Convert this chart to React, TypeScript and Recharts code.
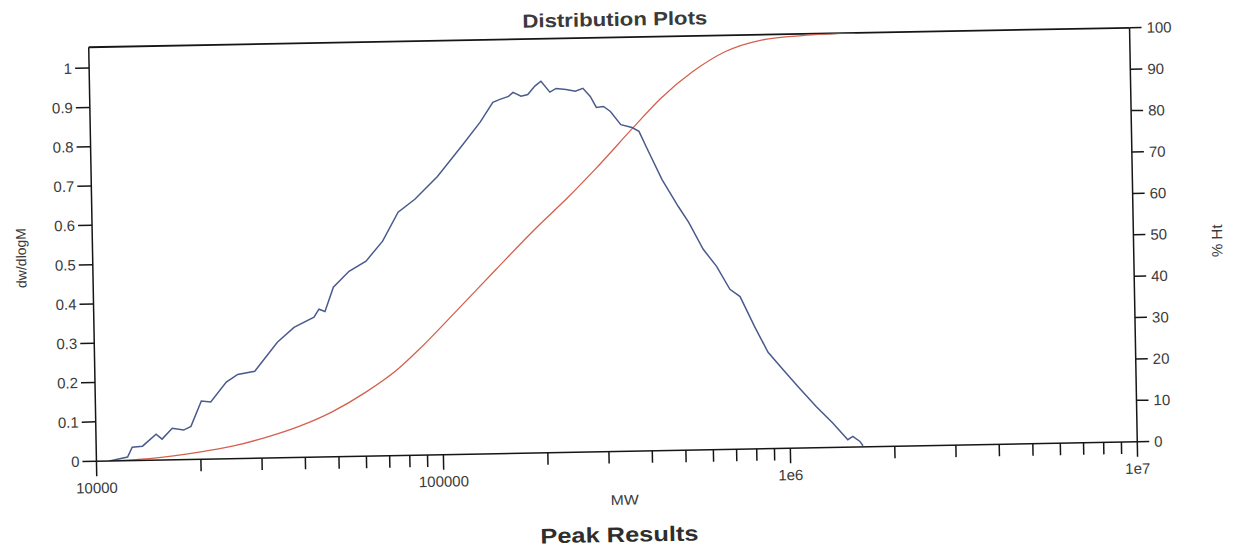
import React from 'react';
import { LineChart, Line, XAxis, YAxis, ReferenceLine } from 'recharts';

// Differential distribution (blue, left axis)
const mwBlue = [10900, 12300, 12700, 13600, 14900, 15500, 16600, 17900, 18800, 20200, 21500, 23900, 25800, 28900, 33700, 37700, 43100, 44600, 46400, 49200, 54700, 61300, 68600, 76300, 85400, 99500, 117000, 133000, 145000, 152000, 161000, 166000, 175000, 183000, 192000, 200000, 212000, 221000, 236000, 251000, 264000, 277000, 288000, 302000, 316000, 338000, 364000, 381000, 402000, 441000, 490000, 524000, 575000, 627000, 683000, 730000, 801000, 873000, 978000, 1066000, 1193000, 1327000, 1466000, 1516000, 1588000, 1620000];
const dwdlogM = [0, 0.009, 0.034, 0.036, 0.066, 0.053, 0.08, 0.075, 0.084, 0.148, 0.145, 0.195, 0.214, 0.221, 0.294, 0.331, 0.356, 0.376, 0.37, 0.431, 0.471, 0.496, 0.546, 0.619, 0.651, 0.708, 0.783, 0.844, 0.894, 0.901, 0.908, 0.918, 0.908, 0.912, 0.933, 0.945, 0.917, 0.926, 0.923, 0.918, 0.925, 0.904, 0.876, 0.878, 0.865, 0.831, 0.823, 0.813, 0.767, 0.69, 0.62, 0.579, 0.51, 0.466, 0.407, 0.388, 0.311, 0.245, 0.193, 0.154, 0.105, 0.063, 0.019, 0.027, 0.014, 0.003];

// Cumulative distribution (red, right axis)
const mwRed = [10900, 14200, 19800, 24700, 30900, 38500, 47900, 60100, 74800, 85400, 111400, 145000, 189600, 236000, 282400, 368400, 441000, 548600, 683000, 855900, 1139000, 1620000];
const pctHt = [0, 0.4, 1.7, 3.0, 5.0, 7.5, 10.8, 15.4, 20.9, 25.2, 34.8, 44.5, 54.2, 61.6, 68.1, 78.3, 85.0, 91.4, 96.1, 98.6, 99.6, 100];

const xTicks = [10000, 20000, 30000, 40000, 50000, 60000, 70000, 80000, 90000, 100000, 200000, 300000, 400000, 500000, 600000, 700000, 800000, 900000, 1000000, 2000000, 3000000, 4000000, 5000000, 6000000, 7000000, 8000000, 9000000, 10000000];
const majorTicks = [10000, 100000, 1000000, 10000000];
const majorLabels = ['10000', '100000', '1e6', '1e7'];
const leftTicks = [0, 0.1, 0.2, 0.3, 0.4, 0.5, 0.6, 0.7, 0.8, 0.9, 1];
const rightTicks = [0, 10, 20, 30, 40, 50, 60, 70, 80, 90, 100];

const blueData = mwBlue.map((mw, i) => ({ mw, v: dwdlogM[i] }));
const redData = mwRed.map((mw, i) => ({ mw, v: pctHt[i] }));

const FONT = '"Liberation Sans", Arial, Helvetica, sans-serif';
const AXIS = '#161616';
const TXT = '#3a3a3a';

const XTick = (props: any) => {
  const { x, y, payload } = props;
  const idx = majorTicks.indexOf(payload.value);
  const major = idx >= 0;
  return (
    <g>
      <line x1={x} y1={y} x2={x} y2={y + (major ? 15 : 12)} stroke={AXIS} strokeWidth={1.5} />
      {major && (
        <text x={x} y={y + 32} textAnchor="middle" fill={TXT} fontSize={15} fontFamily={FONT}>
          {majorLabels[idx]}
        </text>
      )}
    </g>
  );
};

export default function App() {
  return (
    <div
      style={{
        position: 'absolute',
        left: 0,
        top: 0,
        width: 1234,
        height: 545,
        background: '#fff',
        transform: 'rotate(-1.07deg)',
        transformOrigin: '613px 244.5px',
      }}
    >
      <LineChart
        width={1234}
        height={545}
        margin={{ top: 37.5, right: 40.5, bottom: 48.5, left: 32.5 }}
      >
        <XAxis
          type="number"
          dataKey="mw"
          scale="log"
          domain={[10000, 10000000]}
          allowDataOverflow
          ticks={xTicks}
          interval={0}
          tickLine={false}
          tickSize={0}
          tickMargin={0}
          tick={<XTick />}
          axisLine={{ stroke: AXIS, strokeWidth: 1.5 }}
          height={45}
        />
        <YAxis
          yAxisId="left"
          type="number"
          domain={[0, 1.053]}
          allowDataOverflow
          ticks={leftTicks}
          interval={0}
          width={60}
          tickSize={14}
          tickMargin={3}
          tickLine={{ stroke: AXIS, strokeWidth: 1.5 }}
          axisLine={{ stroke: AXIS, strokeWidth: 1.5 }}
          tick={{ fill: TXT, fontSize: 15, fontFamily: FONT }}
        />
        <YAxis
          yAxisId="right"
          orientation="right"
          type="number"
          domain={[0, 100]}
          allowDataOverflow
          ticks={rightTicks}
          interval={0}
          width={60}
          tickSize={12}
          tickMargin={5}
          tickLine={{ stroke: AXIS, strokeWidth: 1.5 }}
          axisLine={{ stroke: AXIS, strokeWidth: 1.5 }}
          tick={{ fill: TXT, fontSize: 15, fontFamily: FONT }}
        />
        <ReferenceLine yAxisId="left" y={1.053} stroke={AXIS} strokeWidth={1.8} ifOverflow="visible" />
        <Line
          data={redData}
          yAxisId="right"
          dataKey="v"
          type="monotone"
          stroke="#d4604f"
          strokeWidth={1.3}
          dot={false}
          isAnimationActive={false}
        />
        <Line
          data={blueData}
          yAxisId="left"
          dataKey="v"
          type="linear"
          stroke="#4a5b8c"
          strokeWidth={1.5}
          dot={false}
          isAnimationActive={false}
        />
      </LineChart>
      <svg
        width={1234}
        height={545}
        style={{ position: 'absolute', left: 0, top: 0, pointerEvents: 'none' }}
      >
        <text x={619} y={26} textAnchor="middle" fontFamily={FONT} fontWeight="bold" fontSize={19} fill={TXT} textLength={185} lengthAdjust="spacingAndGlyphs">
          Distribution Plots
        </text>
        <text x={620} y={505} textAnchor="middle" fontFamily={FONT} fontSize={14} fill={TXT} textLength={28} lengthAdjust="spacingAndGlyphs">
          MW
        </text>
        <text x={614} y={542} textAnchor="middle" fontFamily={FONT} fontWeight="bold" fontSize={21} fill="#2e2e2e" textLength={158} lengthAdjust="spacingAndGlyphs">
          Peak Results
        </text>
        <text x={21} y={247} dy="0.35em" textAnchor="middle" fontFamily={FONT} fontSize={14} fill={TXT} transform="rotate(-90 21 247)">
          dw/dlogM
        </text>
        <text x={1217} y={252} dy="0.35em" textAnchor="middle" fontFamily={FONT} fontSize={15} fill={TXT} transform="rotate(-90 1217 252)">
          % Ht
        </text>
      </svg>
    </div>
  );
}
